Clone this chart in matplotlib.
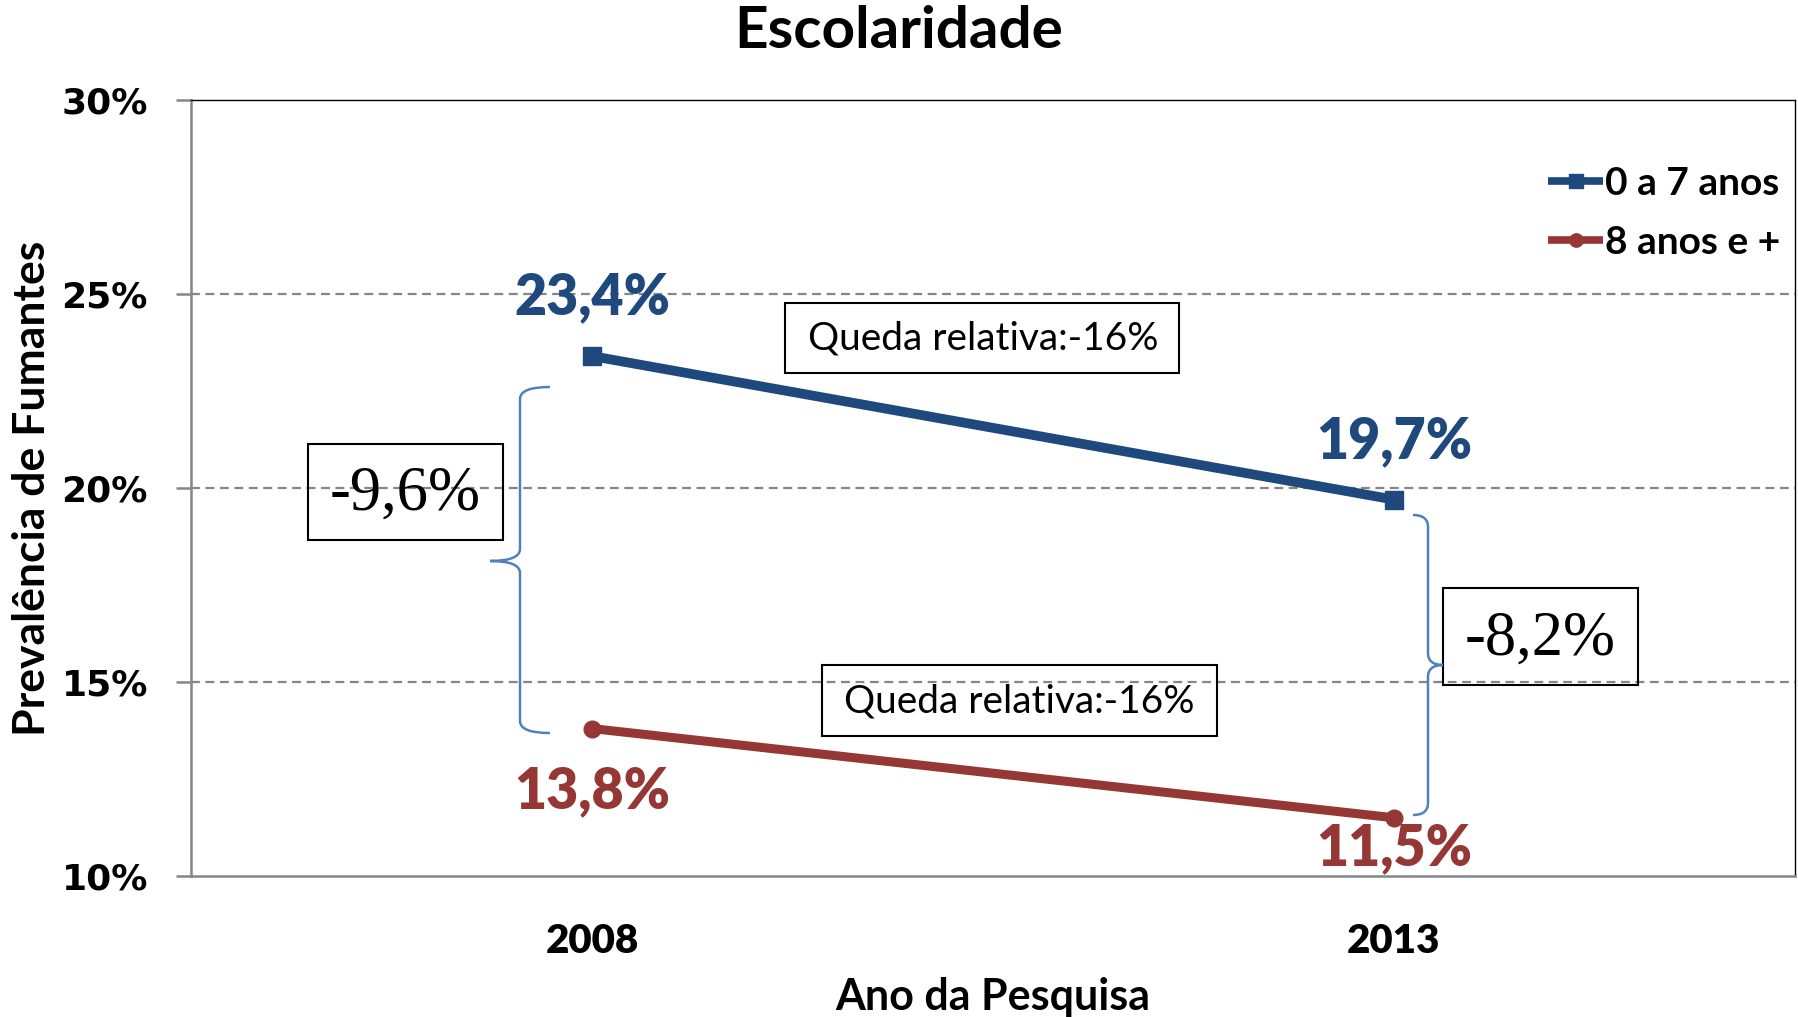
import matplotlib
matplotlib.use('Agg')
import numpy as np
import matplotlib.pyplot as plt
from matplotlib.patches import Rectangle, PathPatch
from matplotlib.path import Path

# dados
anos = ["2008", "2013"]
serie_0a7 = [23.4, 19.7]
serie_8mais = [13.8, 11.5]
nomes = ["0 a 7 anos", "8 anos e +"]
yticks = [10, 15, 20, 25, 30]

AZUL = "#1F497D"
VERM = "#953735"
CHAVE = "#4F81BD"
CINZA = "#868686"

W, H = 1798, 1017


def fx(x):
    return x / W


def fy(y):
    return 1 - y / H


def fmt(v):
    return f"{v:.1f}".replace(".", ",") + "%"


def chave(fig, x0, top, tipy, tipx, bot, endx):
    # chave desenhada em pixels da figura
    d = 12
    verts = [
        (endx, top), (x0, top), (x0, top + d),
        (x0, tipy - d), (x0, tipy), (tipx, tipy),
        (x0, tipy), (x0, tipy + d),
        (x0, bot - d), (x0, bot), (endx, bot),
    ]
    codes = [Path.MOVETO, Path.CURVE3, Path.CURVE3,
             Path.LINETO, Path.CURVE3, Path.CURVE3,
             Path.CURVE3, Path.CURVE3,
             Path.LINETO, Path.CURVE3, Path.CURVE3]
    verts = [(fx(a), fy(b)) for a, b in verts]
    p = PathPatch(Path(verts, codes), transform=fig.transFigure,
                  facecolor="none", edgecolor=CHAVE, lw=1.8)
    fig.add_artist(p)


def caixa(fig, x1, x2, y1, y2, texto, tx, ty, **kw):
    r = Rectangle((fx(x1), fy(y2)), fx(x2) - fx(x1), fy(y1) - fy(y2),
                  transform=fig.transFigure, facecolor="none",
                  edgecolor="black", lw=1.5)
    fig.add_artist(r)
    fig.text(fx(tx), fy(ty), texto, ha="center", va="center", **kw)


def main() -> None:
    fig = plt.figure(figsize=(W / 100, H / 100), dpi=100)
    ax = fig.add_axes([fx(191), fy(876), fx(1795) - fx(191), fy(100) - fy(876)])

    x = np.arange(len(anos))
    ax.plot(x, serie_0a7, color=AZUL, lw=7, marker="s", ms=13, label=nomes[0],
            solid_capstyle="butt", zorder=3)
    ax.plot(x, serie_8mais, color=VERM, lw=6.5, marker="o", ms=12, label=nomes[1],
            solid_capstyle="butt", zorder=3)

    ax.set_xlim(-0.5, 1.5)
    ax.set_ylim(10, 30)
    ax.set_yticks(yticks)
    ax.set_yticklabels([f"{t}%" for t in yticks], fontfamily="DejaVu Sans",
                       fontweight="bold", fontsize=26)
    ax.set_xticks(x)
    ax.set_xticklabels(anos, fontfamily="Lato", fontweight="heavy", fontsize=29)
    ax.tick_params(axis="y", length=11, width=1.8, color=CINZA, pad=20)
    ax.tick_params(axis="x", length=0, pad=34)

    for t in [15, 20, 25]:
        ax.axhline(t, color=CINZA, lw=1.6, ls=(0, (4, 2.5)), zorder=1)

    for s in ["left", "bottom"]:
        ax.spines[s].set_color(CINZA)
        ax.spines[s].set_linewidth(1.8)
    for s in ["top", "right"]:
        ax.spines[s].set_color("black")
        ax.spines[s].set_linewidth(1.0)

    ax.set_ylabel("Prevalência de Fumantes", fontfamily="Lato",
                  fontweight="bold", fontsize=32)
    ax.yaxis.label.set_va("center")
    ax.yaxis.set_label_coords(-0.099, 0.5)
    ax.set_xlabel("Ano da Pesquisa", fontfamily="Lato", fontweight="bold",
                  fontsize=31)
    ax.xaxis.label.set_va("center")
    ax.xaxis.set_label_coords(0.5, -0.156)

    fig.text(0.5, fy(32), "Escolaridade", ha="center", va="center",
             fontfamily="Lato", fontweight="bold", fontsize=42)

    # rótulos dos valores
    offs_azul = [42, 42]
    offs_verm = [-45, -22]
    for i in range(len(anos)):
        ax.annotate(fmt(serie_0a7[i]), (x[i], serie_0a7[i]),
                    xytext=(0, offs_azul[i]), textcoords="offset points",
                    ha="center", va="center", color=AZUL, fontfamily="Lato",
                    fontweight="heavy", fontsize=40)
        ax.annotate(fmt(serie_8mais[i]), (x[i], serie_8mais[i]),
                    xytext=(0, offs_verm[i]), textcoords="offset points",
                    ha="center", va="center", color=VERM, fontfamily="Lato",
                    fontweight="heavy", fontsize=40)

    leg = ax.legend(loc="upper right", bbox_to_anchor=(fx(1780), fy(166)),
                    bbox_transform=fig.transFigure, frameon=False,
                    borderpad=0, borderaxespad=0, handlelength=1.4,
                    handletextpad=0.05, labelspacing=0.62,
                    prop={"family": "Lato", "weight": "bold", "size": 28},
                    markerscale=0.8)
    for h in leg.legend_handles:
        h.set_linewidth(5.5)

    # caixas de texto
    caixa(fig, 785, 1179, 303, 373, "Queda relativa:-16%", 983, 339,
          fontfamily="Lato", fontsize=28)
    caixa(fig, 822, 1217, 665, 736, "Queda relativa:-16%", 1019, 701,
          fontfamily="Lato", fontsize=28)
    caixa(fig, 308, 503, 444, 540, "-9,6%", 405, 495,
          fontfamily="Liberation Serif", fontsize=45)
    caixa(fig, 1443, 1638, 588, 685, "-8,2%", 1540, 640,
          fontfamily="Liberation Serif", fontsize=45)

    chave(fig, 520, 387, 561, 490, 733, 550)
    chave(fig, 1428, 515, 665, 1443, 815, 1413)

    fig.savefig("out.png", dpi=100)


if __name__ == "__main__":
    main()
